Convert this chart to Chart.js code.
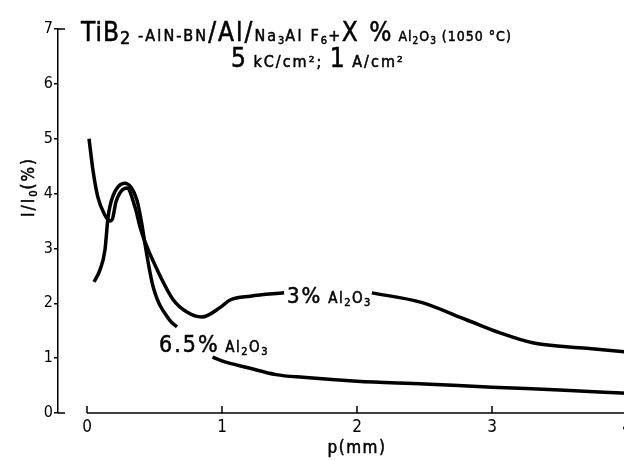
<!DOCTYPE html>
<html>
<head>
<meta charset="utf-8">
<script src="https://cdn.jsdelivr.net/npm/chart.js@4"></script>
<style>
  html, body { margin: 0; padding: 0; background: #fff; overflow: hidden; }
  #wrap { width: 640px; height: 461px; }
</style>
</head>
<body>
<div id="wrap"><canvas id="chart" width="640" height="461"></canvas></div>
<script>
// p (mm) positions and I/I0 (%); null = gap where a label sits
const p3 = [0.015, 0.044, 0.08, 0.13, 0.17, 0.19, 0.215, 0.296, 0.356, 0.393, 0.425, 0.52, 0.64, 0.74, 0.85, 0.99, 1.06, 1.21, 1.46, 1.8, 2.11, 2.47, 2.81, 3.06, 3.30, 3.70, 4.0];
const i3 = [5.0, 4.43, 3.94, 3.62, 3.50, 3.55, 3.85, 4.10, 3.75, 3.39, 3.15, 2.61, 2.06, 1.84, 1.75, 1.93, 2.06, 2.13, 2.19, null, 2.19, 2.02, 1.70, 1.46, 1.28, 1.18, 1.11];

const p65 = [0.052, 0.096, 0.133, 0.156, 0.19, 0.28, 0.37, 0.41, 0.425, 0.49, 0.61, 0.667, 0.8, 0.93, 1.0, 1.2, 1.4, 1.6, 2.0, 2.5, 3.0, 3.5, 4.0];
const i65 = [2.39, 2.61, 2.97, 3.57, 3.94, 4.19, 3.88, 3.39, 3.15, 2.30, 1.70, 1.57, null, 1.02, 0.95, 0.82, 0.70, 0.65, 0.58, 0.53, 0.47, 0.42, 0.36];

const xTicks = [0, 1, 2, 3, 4];
const yTicks = [0, 1, 2, 3, 4, 5, 6, 7];

const FONT = '"DejaVu Sans Condensed", "DejaVu Sans", sans-serif';

const toPoints = (xs, ys) => xs.map((x, i) => ({ x: x, y: ys[i] }));

// text runs: [text, size, letter spacing, baseline shift]
const drawRuns = (ctx, runs, x, y) => {
    ctx.lineWidth = 0.5;
    runs.forEach(([text, size, sp, dy]) => {
        ctx.font = `${size}px ${FONT}`;
        ctx.letterSpacing = `${sp || 0}px`;
        ctx.fillText(text, x, y + (dy || 0));
        ctx.strokeText(text, x, y + (dy || 0));
        x += ctx.measureText(text).width;
    });
    ctx.letterSpacing = '0px';
    return x;
};

const runsWidth = (ctx, runs) => {
    let w = 0;
    runs.forEach(([text, size, sp]) => {
        ctx.font = `${size}px ${FONT}`;
        ctx.letterSpacing = `${sp || 0}px`;
        w += ctx.measureText(text).width;
    });
    ctx.letterSpacing = '0px';
    return w;
};

const al2o3 = (size, sp) => [[' Al', size, sp], ['2', size - 4, sp, 3], ['O', size, sp], ['3', size - 4, sp, 3]];

const decor = {
    id: 'decor',
    afterDraw(chart) {
        const ctx = chart.ctx;
        const xs = chart.scales.x;
        const ys = chart.scales.y;
        const y0 = ys.getPixelForValue(0);
        ctx.save();
        ctx.strokeStyle = '#000';
        ctx.fillStyle = '#000';

        // x axis line starts at p = 0, ticks point up
        ctx.lineWidth = 1.5;
        ctx.beginPath();
        ctx.moveTo(xs.getPixelForValue(0), y0);
        ctx.lineTo(chart.width, y0);
        xTicks.forEach(v => {
            const px = xs.getPixelForValue(v);
            ctx.moveTo(px, y0);
            ctx.lineTo(px, y0 - 7);
        });
        // end ticks of y axis point inward
        [0, 7].forEach(v => {
            const py = ys.getPixelForValue(v);
            ctx.moveTo(chart.chartArea.left, py);
            ctx.lineTo(chart.chartArea.left + 7, py);
        });
        ctx.stroke();

        ctx.textBaseline = 'alphabetic';
        ctx.textAlign = 'left';

        drawRuns(ctx, [
            ['TiB', 26, 1], ['2', 18, 1, 3], [' -AlN-BN', 16, 2.2], ['/Al/', 26, 2],
            ['Na', 16, 2], ['3', 11, 1, 3], ['Al F', 16, 2.2], ['6', 11, 1, 3], ['+', 16, 1.5],
            ['X %', 26, 2]
        ].concat(al2o3(14, 1), [[' (1050 °C)', 14, 1]]), 81, 41);
        drawRuns(ctx, [
            ['5', 26, 1], [' kC/cm²; ', 16, 2], ['1', 26, 1], [' A/cm²', 16, 2]
        ], 231, 67);

        drawRuns(ctx, [['3%', 22, 2]].concat(al2o3(15, 1.5)), 287, 303);
        drawRuns(ctx, [['6.5%', 23, 2]].concat(al2o3(15, 1.5)), 159, 352);

        // axis titles
        const pRuns = [['p(mm)', 17, 1.5]];
        drawRuns(ctx, pRuns, xs.getPixelForValue(2) - runsWidth(ctx, pRuns) / 2, 453);

        const yRuns = [['I/I', 17, 2], ['0', 11, 1, 3], ['(%)', 17, 2]];
        const w = runsWidth(ctx, yRuns);
        ctx.translate(34, 187);
        ctx.rotate(-Math.PI / 2);
        drawRuns(ctx, yRuns, -w / 2, 0);
        ctx.restore();
    }
};

const lineStyle = {
    borderColor: '#000',
    borderWidth: 3.5,
    pointRadius: 0,
    fill: false,
    spanGaps: false,
    cubicInterpolationMode: 'monotone'
};

new Chart(document.getElementById('chart'), {
    type: 'line',
    data: {
        datasets: [
            Object.assign({ label: '3% Al2O3', data: toPoints(p3, i3) }, lineStyle),
            Object.assign({ label: '6.5% Al2O3', data: toPoints(p65, i65) }, lineStyle)
        ]
    },
    options: {
        responsive: false,
        animation: false,
        devicePixelRatio: 1,
        layout: { padding: { left: 0, top: 29, right: 13, bottom: 0 } },
        plugins: { legend: { display: false }, tooltip: { enabled: false } },
        scales: {
            x: {
                type: 'linear',
                min: -0.2148,
                max: 4,
                afterBuildTicks: s => { s.ticks = xTicks.map(v => ({ value: v })); },
                afterFit: s => { s.height = 48; },
                grid: { display: false },
                border: { display: false },
                ticks: { color: '#000', padding: -4, font: { family: FONT, size: 17 } }
            },
            y: {
                min: 0,
                max: 7,
                afterBuildTicks: s => { s.ticks = yTicks.map(v => ({ value: v })); },
                afterFit: s => { s.width = 58; },
                grid: { drawOnChartArea: false, tickLength: 4, color: '#000', lineWidth: 1.5 },
                border: { display: true, color: '#000', width: 1.5 },
                ticks: { color: '#000', padding: 1, font: { family: FONT, size: 16 } }
            }
        }
    },
    plugins: [decor]
});
</script>
</body>
</html>
